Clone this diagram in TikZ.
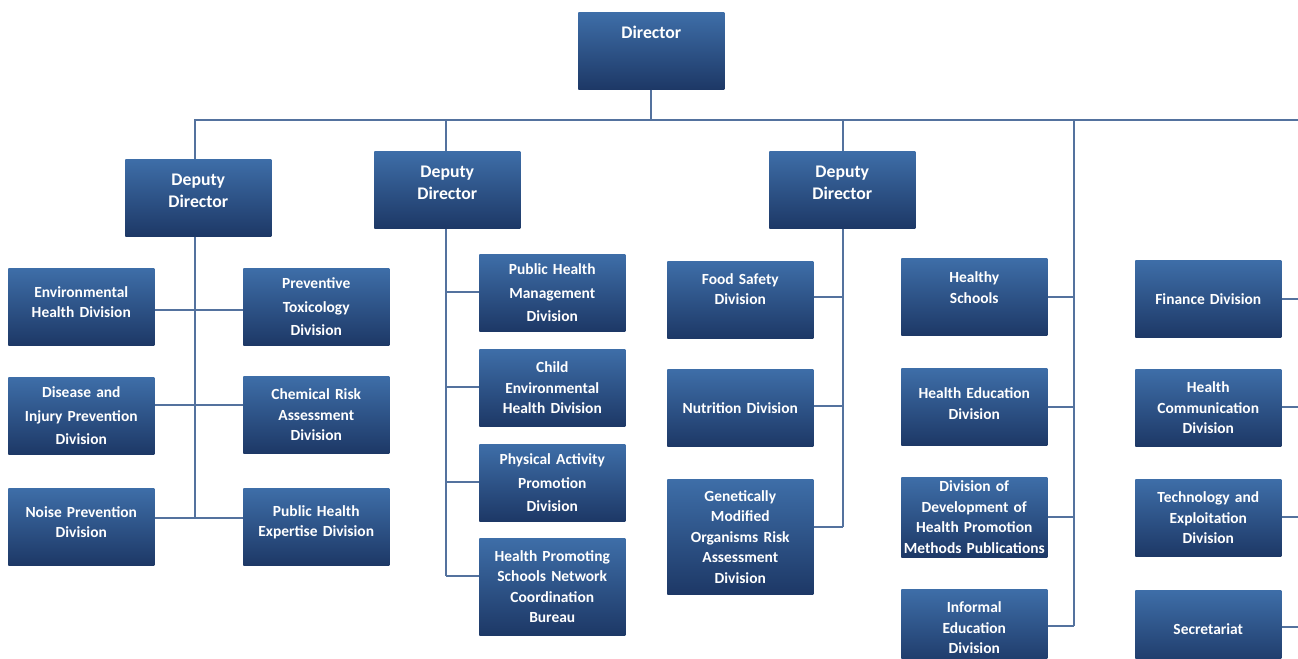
\documentclass[tikz,border=0pt]{standalone}
\usepackage{fontspec}
\setmainfont{Carlito}
\usepackage{tikz}
\definecolor{boxtop}{RGB}{62,110,168}
\definecolor{boxbot}{RGB}{29,56,102}
\definecolor{linkblue}{RGB}{84,114,158}

\begin{document}
\begin{tikzpicture}[x=0.75pt,y=0.75pt,yscale=-1,xscale=1,
  divbox/.style={anchor=north west, inner sep=0pt, top color=boxtop, bottom color=boxbot,
    text=white, align=center, text width=109.5pt, minimum width=109.5pt, minimum height=57.75pt,
    font=\fontsize{11.6}{15.4}\selectfont\bfseries},
  loose/.style={font=\fontsize{11.6}{17.6}\selectfont\bfseries},
  chiefbox/.style={divbox, font=\fontsize{13.3}{16.5}\selectfont\bfseries},
  lift/.style={execute at end node={\endgraf\vspace*{#1}}},
  link/.style={draw=linkblue, line width=1.3pt}]
%set diagram left start at 0, and has height of 658
\useasboundingbox (0,0) rectangle (1298,658);

% Text Node
\draw (578,12) node [chiefbox, lift=28pt] (dir) {Director};
% Text Node
\draw (125,159) node [chiefbox, lift=10pt] (dep1) {Deputy\\Director};
% Text Node
\draw (374,151) node [chiefbox, lift=10pt] (dep2) {Deputy\\Director};
% Text Node
\draw (769,151) node [chiefbox, lift=10pt] (dep3) {Deputy\\Director};

% Text Node
\draw (8,268) node [divbox, lift=7pt] (env) {Environmental\\Health Division};
% Text Node
\draw (243,268) node [divbox, loose] (tox) {Preventive\\Toxicology\\Division};
% Text Node
\draw (8,377) node [divbox, loose] (dis) {Disease and\\Injury Prevention\\Division};
% Text Node
\draw (243,376) node [divbox] (chem) {Chemical Risk\\Assessment\\Division};
% Text Node
\draw (8,488) node [divbox, lift=7pt] (noise) {Noise Prevention\\Division};
% Text Node
\draw (243,488) node [divbox, lift=7pt] (expert) {Public Health\\Expertise Division};

% Text Node
\draw (479,254) node [divbox, loose] (mgmt) {Public Health\\Management\\Division};
% Text Node
\draw (479,349) node [divbox] (child) {Child\\Environmental\\Health Division};
% Text Node
\draw (479,444) node [divbox, loose] (phys) {Physical Activity\\Promotion\\Division};
% Text Node
\draw (479,538) node [divbox, minimum height=72.75pt] (hps) {Health Promoting\\Schools Network\\Coordination\\Bureau};

% Text Node
\draw (667,261) node [divbox, lift=16pt] (food) {Food Safety\\Division};
% Text Node
\draw (667,369) node [divbox] (nutr) {Nutrition Division};
% Text Node
\draw (667,479) node [divbox, minimum height=86.25pt] (gmo) {Genetically\\Modified\\Organisms Risk\\Assessment\\Division};

% Text Node
\draw (901,258) node [divbox, lift=14pt] (hsch) {Healthy\\Schools};
% Text Node
\draw (901,368) node [divbox, lift=5pt] (hedu) {Health Education\\Division};
% Text Node
\draw (901,477) node [divbox, minimum height=60pt] (devm) {Division of\\Development of\\Health Promotion\\Methods Publications};
% Text Node
\draw (901,589) node [divbox] (infed) {Informal\\Education\\Division};

% Text Node
\draw (1135,260) node [divbox] (fin) {Finance Division};
% Text Node
\draw (1135,369) node [divbox] (comm) {Health\\Communication\\Division};
% Text Node
\draw (1135,479) node [divbox] (tech) {Technology and\\Exploitation\\Division};
% Text Node
\draw (1135,590) node [divbox] (secr) {Secretariat};

% junctions
\coordinate (busE) at (1320,120);
\coordinate (a1) at (195,310); \coordinate (a2) at (195,405); \coordinate (a3) at (195,518);
\coordinate (b1) at (446,292); \coordinate (b2) at (446,387); \coordinate (b3) at (446,482); \coordinate (b4) at (446,576);
\coordinate (c1) at (843,297); \coordinate (c2) at (843,406); \coordinate (c3) at (843,527);
\coordinate (d1) at (1074,297); \coordinate (d2) at (1074,407); \coordinate (d3) at (1074,517); \coordinate (d4) at (1074,626);
\coordinate (e1) at (1320,299); \coordinate (e2) at (1320,407); \coordinate (e3) at (1320,517); \coordinate (e4) at (1320,627);

%Straight Lines
\draw [link] (dir.south) -- (dir.south |- busE);
\draw [link] (dep1.north -| a1) -- (a1 |- busE) -- (busE);
\draw [link] (dep2.north -| b1) -- (b1 |- busE);
\draw [link] (dep3.north -| c1) -- (c1 |- busE);
\draw [link] (d1 |- busE) -- (d4);

%Straight Lines
\draw [link] (dep1.south -| a1) -- (a3);
\draw [link] (env.east |- a1) -- (tox.west |- a1);
\draw [link] (dis.east |- a2) -- (chem.west |- a2);
\draw [link] (noise.east |- a3) -- (expert.west |- a3);

%Straight Lines
\draw [link] (dep2.south -| b1) -- (b4);
\draw [link] (b1) -- (mgmt.west |- b1);
\draw [link] (b2) -- (child.west |- b2);
\draw [link] (b3) -- (phys.west |- b3);
\draw [link] (b4) -- (hps.west |- b4);

%Straight Lines
\draw [link] (dep3.south -| c1) -- (c3);
\draw [link] (food.east |- c1) -- (c1);
\draw [link] (nutr.east |- c2) -- (c2);
\draw [link] (gmo.east |- c3) -- (c3);

%Straight Lines
\draw [link] (hsch.east |- d1) -- (d1);
\draw [link] (hedu.east |- d2) -- (d2);
\draw [link] (devm.east |- d3) -- (d3);
\draw [link] (infed.east |- d4) -- (d4);

%Straight Lines
\draw [link] (fin.east |- e1) -- (e1);
\draw [link] (comm.east |- e2) -- (e2);
\draw [link] (tech.east |- e3) -- (e3);
\draw [link] (secr.east |- e4) -- (e4);

\end{tikzpicture}
\end{document}
